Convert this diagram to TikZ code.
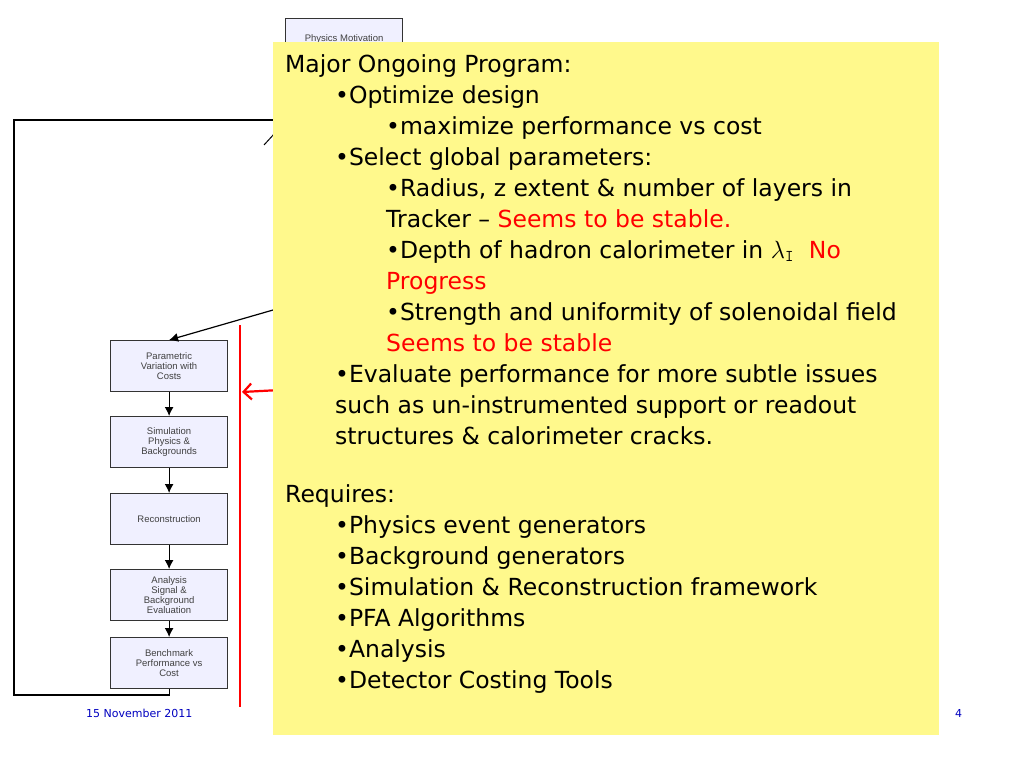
\documentclass[tikz,border=0pt]{standalone}
\usepackage{fontspec}
\usetikzlibrary{arrows.meta}
\setmainfont{DejaVu Sans}
\newfontfamily\boxfont{Liberation Sans}
\begin{document}
\begin{tikzpicture}[x=1pt,y=-1pt,
  fbox/.style={draw=black!80,fill=blue!6,line width=1.2pt,minimum width=117pt,minimum height=51pt,align=center,font=\boxfont\fontsize{9.5}{10}\selectfont,text=black!75,inner sep=1pt},
  arr/.style={-{Latex[length=9pt,width=9pt]},line width=1.2pt},
  t/.style={anchor=base west,inner sep=0pt,font=\fontsize{23.5}{26}\selectfont},
  r/.style={text=red},
  foot/.style={anchor=base west,inner sep=0pt,text=blue!75!black,font=\fontsize{11}{13}\selectfont}]
\useasboundingbox (0,0) rectangle (1024,768);
% flowchart
\node[fbox,minimum height=40pt,anchor=north west] (pm) at (285,18) {Physics Motivation};
\node[fbox,anchor=north west] (p1) at (110,340) {Parametric\\Variation with\\Costs};
\node[fbox,anchor=north west] (p2) at (110,416) {Simulation\\Physics \&\\Backgrounds};
\node[fbox,anchor=north west] (p3) at (110,493) {Reconstruction};
\node[fbox,anchor=north west] (p4) at (110,569) {Analysis\\Signal \&\\Background\\Evaluation};
\node[fbox,anchor=north west] (p5) at (110,637) {Benchmark\\Performance vs\\Cost};
\draw[arr] (p1) -- (p2);
\draw[arr] (p2) -- (p3);
\draw[arr] (p3) -- (p4);
\draw[arr] (p4) -- (p5);
\coordinate (c1) at (14,695);
\coordinate (c2) at (14,120);
\coordinate (c3) at (280,120);
\draw[line width=1.2pt] (p5.south) |- (c1) -- (c2) -- (c3);
\draw[line width=1pt] (264,145) -- (275,133);
\coordinate (fromy) at (280,308);
\draw[arr] (fromy) -- (p1.north);
% red line and arrow
\coordinate (ra) at (240,325);
\coordinate (rb) at (240,707);
\draw[red,line width=2.2pt] (ra) -- (rb);
\coordinate (rs) at (280,390);
\coordinate (re) at (242,392);
\draw[red,line width=2.2pt,-{Straight Barb[length=8pt,width=16pt]}] (rs) -- (re);
% yellow box
\fill[yellow!45] (273,42) rectangle (939,735);
\node[t] (l1) at (285,72) {Major Ongoing Program:};
\node[t] (l2) at (335,103) {•Optimize design};
\node[t] (l3) at (386,134) {•maximize performance vs cost};
\node[t] (l4) at (335,165) {•Select global parameters:};
\node[t] (l5) at (386,196) {•Radius, z extent \& number of layers in};
\node[t] (l6) at (386,227) {Tracker – \textcolor{red}{Seems to be stable.}};
\node[t] (l7) at (386,258) {•Depth of hadron calorimeter in $\lambda_{\mathtt{I}}$\ \ \textcolor{red}{No}};
\node[t,r] (l8) at (386,289) {Progress};
\node[t] (l9) at (386,320) {•Strength and uniformity of solenoidal field};
\node[t,r] (l10) at (386,351) {Seems to be stable};
\node[t] (l11) at (335,382) {•Evaluate performance for more subtle issues};
\node[t] (l12) at (335,413) {such as un-instrumented support or readout};
\node[t] (l13) at (335,444) {structures \& calorimeter cracks.};
\node[t] (l14) at (285,502) {Requires:};
\node[t] (l15) at (335,533) {•Physics event generators};
\node[t] (l16) at (335,564) {•Background generators};
\node[t] (l17) at (335,595) {•Simulation \& Reconstruction framework};
\node[t] (l18) at (335,626) {•PFA Algorithms};
\node[t] (l19) at (335,657) {•Analysis};
\node[t] (l20) at (335,688) {•Detector Costing Tools};
\node[foot] (f1) at (86,717) {15 November 2011};
\node[foot] (f2) at (955,717) {4};
\end{tikzpicture}
\end{document}
